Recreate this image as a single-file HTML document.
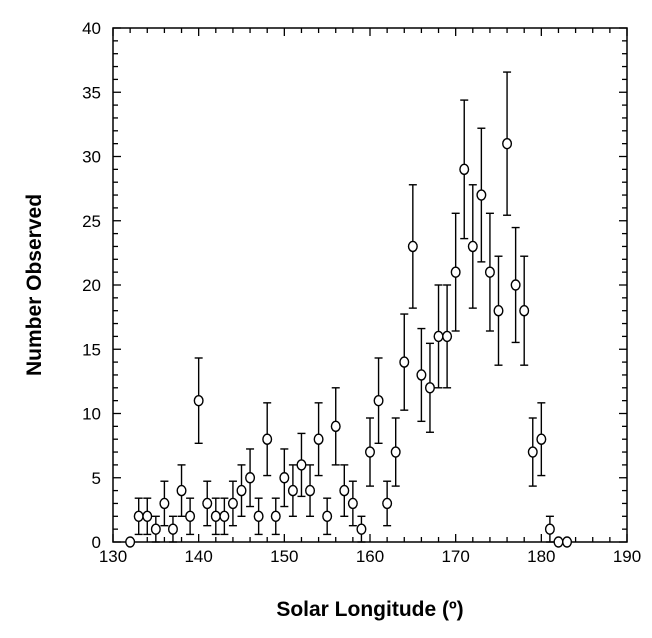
<!DOCTYPE html>
<html><head><meta charset="utf-8"><style>
body{margin:0;background:#fff;}
text{font-family:"Liberation Sans",Arial,sans-serif;}
</style></head><body>
<svg id="chart" width="652" height="633" xmlns="http://www.w3.org/2000/svg"></svg>
<script>
const longitudes=[132,133,134,135,136,137,138,139,140,141,142,143,144,145,146,147,148,149,150,151,152,153,154,155,156,157,158,159,160,161,162,163,164,165,166,167,168,169,170,171,172,173,174,175,176,177,178,179,180,181,182,183];
const counts=[0,2,2,1,3,1,4,2,11,3,2,2,3,4,5,2,8,2,5,4,6,4,8,2,9,4,3,1,7,11,3,7,14,23,13,12,16,16,21,29,23,27,21,18,31,20,18,7,8,1,0,0];
const errors=[0,1.41,1.41,1,1.73,1,2,1.41,3.32,1.73,1.41,1.41,1.73,2,2.24,1.41,2.83,1.41,2.24,2,2.45,2,2.83,1.41,3,2,1.73,1,2.65,3.32,1.73,2.65,3.74,4.8,3.61,3.46,4,4,4.58,5.39,4.8,5.2,4.58,4.24,5.57,4.47,4.24,2.65,2.83,1,0,0];
const xTicks=[130,140,150,160,170,180,190];
const yTicks=[0,5,10,15,20,25,30,35,40];
const X0=113,X1=627,Y0=542,Y1=28;
const sx=v=>X0+(v-130)/60*(X1-X0);
const sy=v=>Y0-(v/40)*(Y0-Y1);
const svg=document.getElementById('chart');
const NS='http://www.w3.org/2000/svg';
function mk(t,a,p){const e=document.createElementNS(NS,t);for(const k in a)e.setAttribute(k,a[k]);(p||svg).appendChild(e);return e;}
const frame=mk('rect',{x:X0,y:Y1,width:X1-X0,height:Y0-Y1,fill:'none',stroke:'#000','stroke-width':1.5});


const axes=mk('g',{stroke:'#000','stroke-width':1.3});


for(let v=130;v<=190;v+=2){const x=sx(v);const L=(v%10===0)?8:5;
 mk('line',{x1:x,y1:Y0,x2:x,y2:Y0-L},axes);mk('line',{x1:x,y1:Y1,x2:x,y2:Y1+L},axes);}
for(let v=0;v<=40;v+=1){const y=sy(v);const L=(v%5===0)?8:5;
 mk('line',{x1:X0,y1:y,x2:X0+L,y2:y},axes);mk('line',{x1:X1,y1:y,x2:X1-L,y2:y},axes);}
xTicks.forEach(v=>{const t=mk('text',{x:sx(v),y:Y0+20,'text-anchor':'middle','font-size':17});t.textContent=v;
 
 });
yTicks.forEach(v=>{const t=mk('text',{x:X0-12,y:sy(v)+6,'text-anchor':'end','font-size':17});t.textContent=v;
 
 });
const xt=mk('text',{x:(X0+X1)/2,y:616,'text-anchor':'middle','font-size':21,'font-weight':'bold'});xt.textContent='Solar Longitude (º)';


const yt=mk('text',{x:0,y:0,'text-anchor':'middle','font-size':21,'font-weight':'bold',transform:'translate(41,285) rotate(-90)'});yt.textContent='Number Observed';


const pts=mk('g',{stroke:'#000','stroke-width':1.4,fill:'none'});


longitudes.forEach((lon,i)=>{
 const x=sx(lon),y=sy(counts[i]),e=errors[i];
 const g=mk('g',{},pts);
 
 
 if(e>0){const yt=sy(counts[i]+e),yb=sy(counts[i]-e);
  mk('line',{x1:x,y1:yt,x2:x,y2:y-5},g);mk('line',{x1:x,y1:y+5,x2:x,y2:yb},g);
  mk('line',{x1:x-4,y1:yt,x2:x+4,y2:yt},g);mk('line',{x1:x-4,y1:yb,x2:x+4,y2:yb},g);}
 mk('ellipse',{cx:x,cy:y,rx:4.3,ry:5,fill:'#fff'},g);
});
</script>
</body></html>
